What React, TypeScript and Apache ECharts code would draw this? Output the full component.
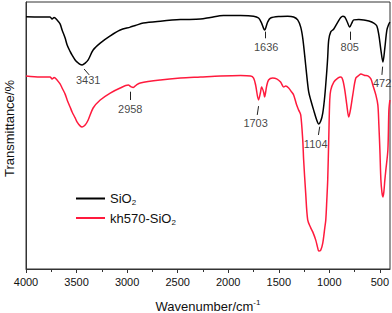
import React, { useEffect, useRef } from "react";
import * as echarts from "echarts";

// Wavenumber (cm-1) and transmittance (arbitrary %)
const sio2Wn = [4000, 3861, 3762, 3742, 3722, 3693, 3663, 3643, 3613, 3593, 3564, 3544, 3514, 3494, 3465, 3445, 3415, 3385, 3336, 3266, 3167, 3068, 2969, 2939, 2919, 2840, 2671, 2473, 2275, 2176, 2047, 1878, 1749, 1700, 1670, 1640, 1610, 1581, 1482, 1412, 1353, 1313, 1283, 1263, 1244, 1224, 1204, 1184, 1155, 1125, 1105, 1085, 1065, 1045, 1025, 1016, 1006, 986, 956, 916, 887, 867, 847, 827, 798, 778, 758, 708, 659, 609, 560, 530, 510, 490, 470, 451, 431, 411, 401];
const sio2T = [94.5, 94.4, 94.4, 93.6, 94.2, 93.3, 91.8, 89.5, 86.5, 83.9, 81.5, 80.1, 78.3, 77.5, 76.6, 76.4, 77.1, 78.3, 82.0, 84.6, 87.3, 89.5, 90.6, 91.0, 91.2, 92.1, 92.8, 93.4, 93.6, 94.2, 94.9, 94.9, 94.7, 94.0, 92.1, 89.5, 92.5, 94.0, 94.6, 94.7, 94.4, 93.3, 90.6, 86.5, 80.1, 72.7, 66.3, 63.3, 59.5, 55.8, 54.3, 55.4, 58.4, 64.8, 74.2, 79.4, 85.8, 88.8, 89.9, 92.5, 94.2, 94.7, 94.4, 92.9, 90.6, 92.1, 93.3, 93.4, 93.3, 92.9, 92.1, 91.0, 87.6, 82.0, 77.5, 82.8, 89.5, 91.8, 92.5];

const khWn = [4000, 3861, 3762, 3742, 3722, 3693, 3663, 3643, 3613, 3593, 3564, 3544, 3514, 3494, 3465, 3445, 3415, 3385, 3336, 3266, 3167, 3068, 2989, 2959, 2939, 2909, 2870, 2671, 2473, 2275, 2077, 1878, 1779, 1749, 1729, 1700, 1680, 1670, 1650, 1640, 1620, 1601, 1561, 1521, 1482, 1452, 1432, 1402, 1373, 1353, 1323, 1303, 1283, 1263, 1254, 1234, 1214, 1184, 1164, 1135, 1115, 1105, 1085, 1065, 1045, 1035, 1025, 1016, 1006, 996, 986, 956, 916, 887, 867, 847, 827, 808, 788, 768, 738, 708, 688, 649, 619, 589, 570, 540, 520, 510, 500, 490, 480, 470, 461, 451, 441, 421, 411, 401];
const khT = [72.3, 71.9, 71.9, 71.2, 71.7, 70.8, 69.3, 67.8, 65.5, 63.3, 60.7, 58.8, 56.6, 55.0, 53.6, 53.2, 53.9, 55.8, 60.3, 63.3, 65.9, 67.8, 68.9, 68.2, 68.0, 68.9, 69.7, 70.8, 71.5, 71.9, 72.3, 72.5, 72.3, 71.5, 68.9, 63.3, 66.3, 68.2, 66.3, 64.4, 68.5, 70.8, 71.5, 71.2, 70.0, 68.2, 68.5, 67.8, 66.3, 65.2, 61.4, 59.5, 57.7, 48.3, 40.8, 28.5, 18.4, 15.4, 13.9, 10.9, 7.9, 6.7, 7.1, 9.7, 15.4, 18.4, 25.8, 33.3, 48.3, 63.3, 67.0, 70.0, 71.5, 71.9, 70.8, 67.0, 61.4, 56.9, 60.3, 65.2, 71.5, 72.5, 73.0, 72.5, 72.3, 71.2, 68.9, 65.2, 61.4, 53.9, 44.6, 33.3, 28.8, 27.0, 28.8, 33.3, 37.1, 44.6, 59.5, 63.3];

// Peak annotations: label, text position, arrow start and arrow end (wavenumber, transmittance)
const peakLabels = ["3431", "2958", "1636", "805", "472", "1703", "1104"];
const peakTextWn = [3385, 2969, 1625, 798, 478, 1729, 1135];
const peakTextT = [70.6, 60.1, 83.0, 83.1, 69.5, 54.5, 47.0];
const arrowFromWn = [3425, 2969, 1630, 798, 473, 1700, 1095];
const arrowFromT = [74.9, 66.4, 88.9, 88.9, 75.8, 61.0, 53.3];
const arrowToWn = [3375, 2969, 1630, 798, 480, 1713, 1108];
const arrowToT = [72.7, 63.3, 86.4, 85.8, 72.7, 57.7, 50.2];

const xMajorTicks = [500, 1000, 1500, 2000, 2500, 3000, 3500, 4000];
const xMinorTicks = [750, 1250, 1750, 2250, 2750, 3250, 3750];

const seriesNames = ["SiO2", "kh570-SiO2"];
const seriesColors = ["#000000", "#ff1a3d"];

const FONT = "'Liberation Sans', Arial, sans-serif";

export default function App() {
  const ref = useRef<HTMLDivElement>(null);
  useEffect(() => {
    document.body.style.margin = "0";
    if (!ref.current) return;
    const chart = echarts.init(ref.current, null, { renderer: "svg" });
    const zip = (a: number[], b: number[]) => a.map((v, i) => [v, b[i]]);
    const subRich = {
      a: { fontSize: 13, fontFamily: FONT, color: "#111", lineHeight: 16 },
      sub: { fontSize: 8, fontFamily: FONT, color: "#111", verticalAlign: "bottom", lineHeight: 10, padding: [6, 0, 0, 0] },
    };
    chart.setOption({
      animation: false,
      textStyle: { fontFamily: FONT },
      grid: { left: 26, right: 2, top: 2, bottom: 44, show: true, borderColor: "#333", borderWidth: 1, outerBoundsMode: "none", containLabel: false },
      legend: {
        data: seriesNames,
        orient: "vertical",
        left: 76,
        top: 192,
        padding: 0,
        icon: "rect",
        itemWidth: 29,
        itemHeight: 2,
        itemGap: 5,
        formatter: (n: string) => (n === "SiO2" ? "{a|SiO}{sub|2}" : "{a|kh570-SiO}{sub|2}"),
        textStyle: { rich: subRich },
      },
      xAxis: [
        {
          type: "value",
          inverse: true,
          min: 400,
          max: 4000,
          name: "{a|Wavenumber/cm}{sup|-1}",
          nameLocation: "middle",
          nameGap: 29,
          nameTextStyle: {
            rich: {
              a: { fontSize: 13, fontFamily: FONT, color: "#111", lineHeight: 16 },
              sup: { fontSize: 8, fontFamily: FONT, color: "#111", verticalAlign: "top", lineHeight: 10, padding: [0, 0, 6, 0] },
            },
          },
          axisLine: { show: true, lineStyle: { color: "#333", width: 1 } },
          axisTick: { show: true, length: 4, inside: false, customValues: xMajorTicks, lineStyle: { color: "#333" } },
          axisLabel: { show: true, customValues: xMajorTicks, fontSize: 11, color: "#111", margin: 7, fontFamily: FONT, formatter: (v: number) => String(v) },
          splitLine: { show: false },
        },
        {
          type: "value",
          inverse: true,
          min: 400,
          max: 4000,
          position: "bottom",
          axisLine: { show: false },
          axisTick: { show: true, length: 3, inside: false, customValues: xMinorTicks, lineStyle: { color: "#333" } },
          axisLabel: { show: false },
          splitLine: { show: false },
        },
      ],
      yAxis: {
        type: "value",
        min: 0,
        max: 100,
        name: "Transmittance/%",
        nameLocation: "middle",
        nameGap: 10,
        nameTextStyle: { fontSize: 13, color: "#111", fontFamily: FONT, padding: [0, 0, 0, 14] },
        axisLine: { show: true, lineStyle: { color: "#333", width: 1 } },
        axisTick: { show: false },
        axisLabel: { show: false },
        splitLine: { show: false },
      },
      series: [
        {
          name: seriesNames[0],
          type: "line",
          data: zip(sio2Wn, sio2T),
          symbol: "none",
          smooth: 0.3,
          lineStyle: { color: seriesColors[0], width: 1.5 },
          itemStyle: { color: seriesColors[0] },
        },
        {
          name: seriesNames[1],
          type: "line",
          data: zip(khWn, khT),
          symbol: "none",
          smooth: 0.3,
          lineStyle: { color: seriesColors[1], width: 1.5 },
          itemStyle: { color: seriesColors[1] },
        },
        {
          name: "peaks",
          type: "scatter",
          symbolSize: 1,
          itemStyle: { color: "rgba(0,0,0,0)" },
          silent: true,
          data: peakLabels.map((l, i) => ({ name: l, value: [peakTextWn[i], peakTextT[i]] })),
          label: { show: true, position: "inside", formatter: "{b}", fontSize: 11, color: "#111", fontFamily: FONT },
          markLine: {
            silent: true,
            symbol: ["none", "arrow"],
            symbolSize: [0, 5],
            label: { show: false },
            lineStyle: { color: "#222", width: 1, type: "solid" },
            data: peakLabels.map((_, i) => [
              { coord: [arrowFromWn[i], arrowFromT[i]] },
              { coord: [arrowToWn[i], arrowToT[i]] },
            ]),
          },
        },
      ],
    });
    return () => chart.dispose();
  }, []);
  return <div ref={ref} style={{ width: 392, height: 313 }} />;
}
